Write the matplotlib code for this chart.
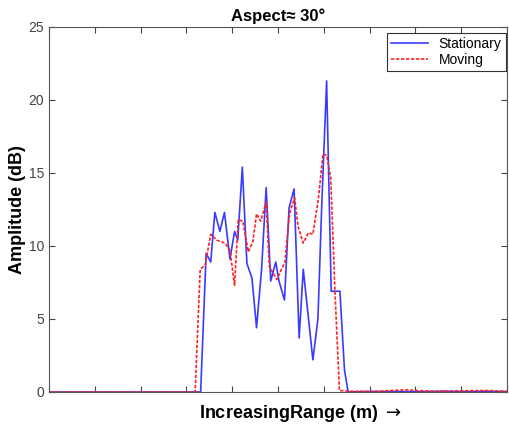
import matplotlib
matplotlib.use("Agg")
import matplotlib.pyplot as plt

plt.rcParams["font.family"] = ["Liberation Sans", "DejaVu Sans"]

# range position (arbitrary units, 0-100) and amplitude (dB)
stat_x = [0, 32.2, 33.1, 34.3, 35.3, 36.2, 37.3, 38.3, 39.5, 40.5, 41.2, 42.2,
          43.2, 44.3, 45.3, 46.4, 47.4, 48.4, 49.5, 50.2, 51.4, 52.4, 53.5,
          54.6, 55.5, 57.6, 58.7, 59.5, 60.6, 61.6, 63.5, 64.5, 65.3, 70, 80,
          86, 90, 95, 100]
stat_y = [0, 0, 0, 9.5, 8.9, 12.3, 11.0, 12.3, 9.1, 11.0, 10.4, 15.4,
          8.8, 7.8, 4.4, 8.4, 14.0, 7.6, 8.9, 7.6, 6.3, 12.6, 13.9,
          3.7, 8.4, 2.2, 5.0, 12.5, 21.3, 6.9, 6.9, 1.5, 0, 0.03, 0.02,
          0.05, 0.02, 0.05, 0.02]

mov_x = [0, 31.0, 31.9, 33.0, 34.1, 35.3, 36.6, 38.4, 39.5, 40.5, 41.3, 42.3,
         43.5, 44.5, 45.3, 46.2, 47.4, 48.1, 49.7, 51.5, 52.5, 53.6, 54.4,
         55.5, 56.6, 57.6, 58.8, 59.8, 60.6, 61.5, 62.4, 63.4, 66, 72, 76,
         78, 80, 84, 90, 96, 100]
mov_y = [0, 0, 0, 8.4, 8.7, 10.8, 10.4, 10.2, 9.7, 7.3, 11.8, 11.7,
         9.6, 10.3, 12.2, 11.7, 13.0, 8.6, 7.7, 8.9, 12.2, 13.3, 11.3,
         10.2, 10.9, 10.8, 13.2, 16.3, 16.2, 14.7, 7.0, 0.1, 0.05, 0.05, 0.12,
         0.15, 0.1, 0.05, 0.08, 0.1, 0.05]

fig = plt.figure(figsize=(5.09, 4.30), dpi=100)
ax = fig.add_axes([0.0963, 0.0884, 0.900, 0.849])

ax.plot(stat_x, stat_y, color="#3a3aff", lw=1.2, label="Stationary")
ax.plot(mov_x, mov_y, color="#ff2020", lw=1.2, ls=(0, (2, 1)), label="Moving")

ax.set_xlim(0, 100)
ax.set_ylim(0, 25)
ax.set_xticks(range(0, 101, 10))
ax.set_xticklabels([])
ax.set_yticks(range(0, 26, 5))
ax.tick_params(direction="in", length=4, top=True, right=True,
               labelsize=10, labelcolor="#444444", colors="#444444")
for s in ax.spines.values():
    s.set_color("#555555")
    s.set_linewidth(0.8)

ax.set_title("Aspect\u2248 30\u00b0", fontsize=12, fontweight="bold", pad=4)
ax.set_ylabel("Amplitude (dB)", fontsize=13, fontweight="bold", labelpad=2)
ax.set_xlabel("IncreasingRange (m) $\\rightarrow$", fontsize=13,
              fontweight="bold", labelpad=8)
ax.xaxis.set_label_coords(0.548, -0.03)

leg = ax.legend(loc="upper right", bbox_to_anchor=(0.997, 0.983),
                borderaxespad=0, fontsize=10, fancybox=False,
                edgecolor="#333333", framealpha=1,
                handlelength=2.6, borderpad=0.3, labelspacing=0.1)
leg.get_frame().set_linewidth(0.8)

fig.savefig("out.png", dpi=100)
